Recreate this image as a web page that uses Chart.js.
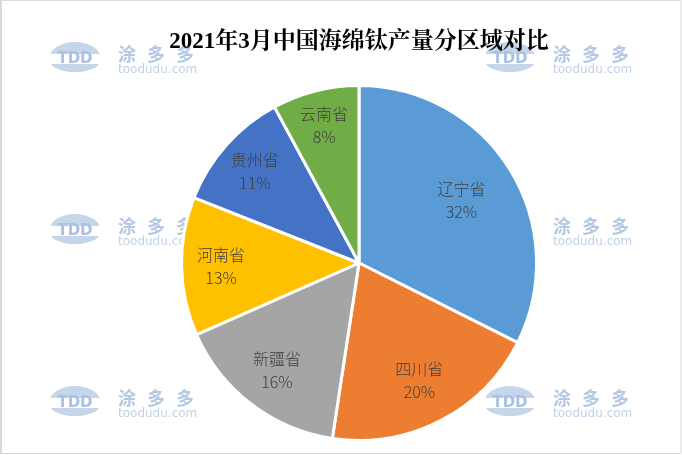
<!DOCTYPE html>
<html>
<head>
    <meta charset="UTF-8">
    <title>2021年3月中国海绵钛产量分区域对比</title>
    <style>
        html, body {
            margin: 0;
            padding: 0;
            background: #ffffff;
        }
        #wrap {
            width: 682px;
            height: 455px;
            position: relative;
        }
    </style>
</head>
<body>
    <div id="wrap">
        <canvas id="pieChart" width="682" height="455"></canvas>
    </div>

    <script src="https://cdn.jsdelivr.net/npm/chart.js"></script>

    <script>
        // Data (share of output, %)
        const chartTitle = '2021年3月中国海绵钛产量分区域对比';
        const regions = ['辽宁省', '四川省', '新疆省', '河南省', '贵州省', '云南省'];
        const shares = [32.4, 20.0, 16.0, 12.6, 11.1, 7.9];
        const sliceColors = ['#5B9BD5', '#ED7D31', '#A5A5A5', '#FFC000', '#4472C4', '#70AD47'];

        // Background watermark + frame
        const backdrop = {
            id: 'backdrop',
            beforeDraw(chart) {
                const c = chart.ctx;
                c.save();
                c.fillStyle = '#ffffff';
                c.fillRect(0, 0, chart.width, chart.height);

                const rows = [57, 229, 401];
                const cols = [75, 510];
                rows.forEach(function (cy) {
                    cols.forEach(function (cx) {
                        // logo dome
                        c.fillStyle = '#C5D5EA';
                        c.beginPath();
                        c.ellipse(cx, cy, 25, 15, 0, Math.PI, 2 * Math.PI);
                        c.fill();
                        c.beginPath();
                        c.ellipse(cx, cy + 4, 25, 11, 0, 0, Math.PI);
                        c.fill();
                        c.fillStyle = '#ffffff';
                        c.fillRect(cx - 26, cy - 3, 52, 10);
                        c.fillStyle = '#A9C1E2';
                        c.font = 'bold 15px "DejaVu Sans", sans-serif';
                        c.textAlign = 'center';
                        c.textBaseline = 'middle';
                        c.fillText('TDD', cx, cy + 2);
                        // brand text
                        c.font = 'bold 18px "Noto Sans CJK SC", sans-serif';
                        c.textAlign = 'left';
                        c.fillStyle = '#B4C8E4';
                        c.fillText('涂', cx + 43, cy - 3);
                        c.fillText('多', cx + 72, cy - 3);
                        c.fillText('多', cx + 101, cy - 3);
                        c.font = '12px "DejaVu Sans", sans-serif';
                        c.fillStyle = '#C2D1E6';
                        c.fillText('toodudu.com', cx + 43, cy + 13);
                    });
                });

                // outer frame
                c.strokeStyle = '#D9D9D9';
                c.lineWidth = 1;
                c.strokeRect(0.5, 0.5, chart.width - 1.5, chart.height - 2);
                c.fillStyle = '#D9D9D9';
                c.fillRect(0, 0, 2, chart.height - 1);
                c.restore();
            }
        };

        // Labels inside the slices
        const sliceLabels = {
            id: 'sliceLabels',
            afterDatasetsDraw(chart) {
                const c = chart.ctx;
                const meta = chart.getDatasetMeta(0);
                const values = chart.data.datasets[0].data;
                const total = values.reduce((a, b) => a + b, 0);
                c.save();
                c.fillStyle = '#404040';
                c.textAlign = 'center';
                c.textBaseline = 'middle';
                c.font = '300 16px "Noto Sans CJK SC", "DejaVu Sans", sans-serif';
                meta.data.forEach(function (arc, i) {
                    const p = arc.getProps(['x', 'y', 'startAngle', 'endAngle', 'outerRadius'], true);
                    const share = values[i] / total;
                    const f = 0.8 - 0.5 * (share - 0.08);
                    const mid = (p.startAngle + p.endAngle) / 2;
                    const lx = p.x + Math.cos(mid) * p.outerRadius * f;
                    const ly = p.y + Math.sin(mid) * p.outerRadius * f;
                    c.fillText(chart.data.labels[i], lx, ly - 11);
                    c.fillText(Math.round(share * 100) + '%', lx, ly + 12);
                });
                c.restore();
            }
        };

        const ctx = document.getElementById('pieChart').getContext('2d');

        const pieChart = new Chart(ctx, {
            type: 'pie',
            data: {
                labels: regions,
                datasets: [{
                    data: shares,
                    backgroundColor: sliceColors,
                    borderColor: '#ffffff',
                    borderWidth: 3,
                    hoverOffset: 0
                }]
            },
            options: {
                responsive: false,
                animation: false,
                layout: {
                    padding: { top: 0, left: 36, right: 0, bottom: 13 }
                },
                plugins: {
                    legend: { display: false },
                    tooltip: { enabled: false },
                    title: {
                        display: true,
                        text: chartTitle,
                        color: '#000000',
                        font: {
                            family: '"Liberation Serif", "Noto Serif CJK SC", "Noto Sans CJK SC", serif',
                            size: 23,
                            weight: 'bold'
                        },
                        padding: { top: 28.2, bottom: 28.2 }
                    }
                }
            },
            plugins: [backdrop, sliceLabels]
        });
    </script>
</body>
</html>
